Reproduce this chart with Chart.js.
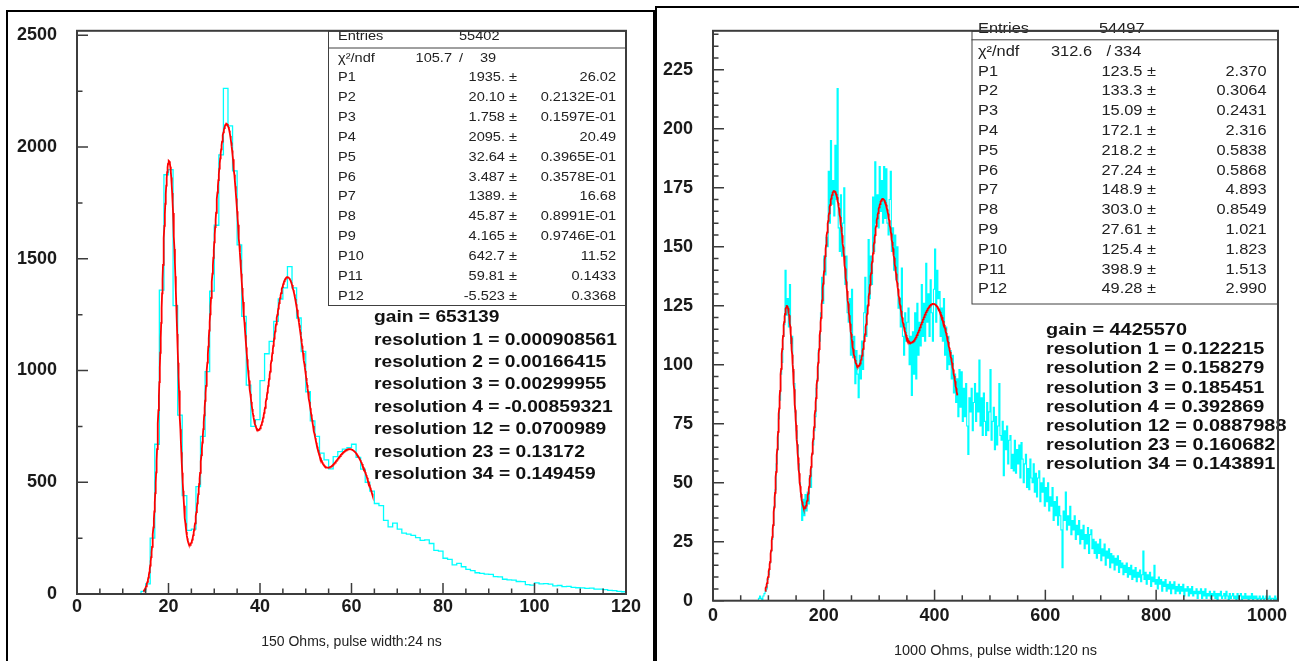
<!DOCTYPE html>
<html>
<head>
<meta charset="utf-8">
<title>Charge spectra with multi-gaussian fits</title>
<script src="https://cdn.jsdelivr.net/npm/chart.js@4.4.1/dist/chart.umd.min.js"></script>
<style>
	html, body { margin: 0; padding: 0; background: #fff; }
	body { width: 1299px; height: 661px; position: relative; overflow: hidden; }
	.frame { position: absolute; box-sizing: border-box; border: 0 solid #000; }
	#frameL { left: 6px; top: 10px; width: 649px; height: 700px; border-width: 2px; }
	#frameR { left: 655px; top: 6px; width: 700px; height: 700px; border-left-width: 2px; border-top-width: 2px; }
	canvas { position: absolute; top: 0; }
	#padL { left: 0; }
	#padR { left: 655px; }
</style>
</head>
<body>
<div class="frame" id="frameL"></div>
<div class="frame" id="frameR"></div>
<canvas id="padL" width="655" height="661"></canvas>
<canvas id="padR" width="644" height="661"></canvas>
<script>
document.addEventListener('DOMContentLoaded', function () {

	'use strict';

	// ---- 150 Ohms, 24 ns : 1-wide bins from 0 to 120
	const leftBinStart = 0;
	const leftBinWidth = 1;
	const leftCounts = [
		0, 0, 0, 0, 0, 0, 0, 0, 0, 0, 0, 0, 0, 0, 12, 45, 250, 670, 1360, 1876,
		1899, 1290, 800, 440, 285, 290, 480, 705, 995, 1355, 1650, 1965, 2262, 2095, 1893, 1562, 1242, 935, 750, 780,
		955, 1075, 1130, 1220, 1320, 1370, 1465, 1370, 1235, 1085, 905, 775, 705, 630, 600, 560, 615, 637, 648, 655,
		670, 611, 559, 500, 460, 405, 395, 329, 300, 317, 290, 272, 268, 262, 252, 240, 242, 226, 195, 192,
		160, 155, 130, 137, 122, 110, 105, 95, 92, 89, 88, 78, 77, 66, 63, 62, 56, 55, 42, 40,
		50, 45, 46, 44, 36, 38, 33, 34, 30, 28, 27, 25, 26, 22, 22, 20, 16, 15, 12, 10
	];
	const leftXTicks = [0, 20, 40, 60, 80, 100, 120];
	const leftYTicks = [0, 500, 1000, 1500, 2000, 2500];
	const leftEntries = '55402';
	const leftChi2 = ['105.7', '39'];
	const leftParText = ['1935.', '20.10', '1.758', '2095.', '32.64', '3.487', '1389.', '45.87', '4.165', '642.7', '59.81', '-5.523'];
	const leftErrText = ['26.02', '0.2132E-01', '0.1597E-01', '20.49', '0.3965E-01', '0.3578E-01', '16.68', '0.8991E-01', '0.9746E-01', '11.52', '0.1433', '0.3368'];
	const leftFitRange = [14.5, 64.6];
	const leftNotes = [
		'gain = 653139',
		'resolution 1 = 0.000908561',
		'resolution 2 = 0.00166415',
		'resolution 3 = 0.00299955',
		'resolution 4 = -0.00859321',
		'resolution 12 = 0.0700989',
		'resolution 23 = 0.13172',
		'resolution 34 = 0.149459'
	];

	// ---- 1000 Ohms, 120 ns : 2-wide bins from 80 to 1020
	const rightBinStart = 80;
	const rightBinWidth = 2;
	const rightCounts = [
		0, 1, 2, 1, 0, 2, 3, 4, 5, 9, 11, 16, 21, 26, 32, 40, 47, 58, 64, 77,
		85, 96, 101, 112, 117, 140, 121, 128, 116, 134, 109, 112, 97, 92, 80, 72, 66, 58, 50, 44,
		34, 43, 36, 45, 38, 46, 41, 53, 48, 62, 66, 72, 78, 90, 94, 106, 110, 122, 137, 126,
		146, 138, 154, 150, 182, 160, 195, 168, 178, 163, 193, 170, 217, 158, 148, 172, 146, 160, 175, 134,
		146, 122, 118, 128, 104, 132, 103, 112, 92, 106, 96, 86, 104, 94, 110, 98, 122, 137, 112, 125,
		153, 128, 146, 134, 171, 148, 186, 160, 172, 158, 184, 165, 178, 160, 184, 162, 183, 160, 155, 170,
		182, 148, 158, 140, 155, 136, 150, 124, 128, 116, 141, 112, 104, 122, 110, 118, 124, 100, 112, 87,
		114, 96, 122, 94, 126, 104, 118, 108, 134, 112, 126, 110, 143, 118, 130, 112, 136, 122, 110, 132,
		149, 118, 140, 128, 131, 112, 124, 110, 128, 104, 116, 98, 112, 100, 106, 94, 104, 88, 96, 84,
		94, 78, 98, 82, 97, 76, 90, 78, 92, 74, 62, 86, 80, 90, 72, 84, 92, 76, 88, 80,
		102, 74, 86, 70, 88, 76, 70, 84, 72, 80, 98, 68, 76, 82, 64, 78, 66, 74, 92, 70,
		68, 76, 53, 72, 64, 74, 58, 68, 70, 56, 62, 55, 68, 54, 64, 58, 66, 52, 67, 60,
		50, 58, 62, 48, 56, 47, 60, 52, 50, 58, 46, 54, 44, 52, 55, 42, 50, 46, 52, 40,
		48, 42, 50, 38, 44, 40, 48, 34, 42, 36, 44, 32, 40, 36, 30, 14, 38, 34, 46, 30,
		36, 32, 40, 28, 34, 30, 36, 26, 32, 28, 34, 24, 30, 26, 32, 22, 28, 24, 31, 20,
		28, 30, 22, 26, 20, 25, 18, 24, 20, 26, 17, 22, 19, 24, 15, 21, 18, 22, 14, 20,
		16, 19, 13, 18, 15, 19, 12, 17, 14, 16, 11, 15, 12, 16, 10, 14, 11, 15, 9, 13,
		10, 14, 8, 12, 10, 13, 8, 11, 21, 9, 12, 7, 11, 9, 12, 6, 10, 8, 15, 7,
		9, 5, 10, 7, 9, 4, 8, 6, 9, 4, 7, 5, 8, 3, 7, 5, 8, 3, 6, 4,
		7, 3, 6, 4, 7, 2, 5, 4, 6, 2, 5, 3, 6, 2, 4, 3, 5, 1, 4, 3,
		5, 1, 4, 2, 5, 1, 3, 2, 4, 1, 3, 2, 4, 1, 3, 0, 3, 2, 4, 1,
		2, 3, 1, 4, 2, 0, 3, 1, 2, 3, 1, 2, 0, 3, 1, 2, 3, 0, 2, 1,
		3, 1, 2, 0, 2, 1, 3, 0, 2, 1, 2, 0, 1, 2, 0, 1, 2, 0, 1, 2,
		0, 1, 2, 0, 1, 1, 0, 2, 0, 1
	];
	const rightXTicks = [0, 200, 400, 600, 800, 1000];
	const rightYTicks = [0, 25, 50, 75, 100, 125, 150, 175, 200, 225];
	const rightEntries = '54497';
	const rightChi2 = ['312.6', '334'];
	const rightParText = ['123.5', '133.3', '15.09', '172.1', '218.2', '27.24', '148.9', '303.0', '27.61', '125.4', '398.9', '49.28'];
	const rightErrText = ['2.370', '0.3064', '0.2431', '2.316', '0.5838', '0.5868', '4.893', '0.8549', '1.021', '1.823', '1.513', '2.990'];
	const rightFitRange = [94, 441];
	const rightNotes = [
		'gain = 4425570',
		'resolution 1 = 0.122215',
		'resolution 2 = 0.158279',
		'resolution 3 = 0.185451',
		'resolution 4 = 0.392869',
		'resolution 12 = 0.0887988',
		'resolution 23 = 0.160682',
		'resolution 34 = 0.143891'
	];

	const FONT = '"Liberation Sans", Arial, Helvetica, sans-serif';
	Chart.defaults.font.family = FONT;

	// outline of a histogram, one point per lower bin edge plus the closing edge
	function histSteps(start, width, counts) {
		const pts = counts.map(function (c, i) { return {x: start + i * width, y: c}; });
		pts.push({x: start + counts.length * width, y: 0});
		return pts;
	}

	// sum of gaussians, parameters in (amplitude, mean, sigma) triplets
	function fitCurve(pars, range, step) {
		const pts = [];
		for (let x = range[0]; x <= range[1] + 1e-9; x += step) {
			let y = 0;
			for (let k = 0; k < pars.length; k += 3) {
				const u = (x - pars[k + 1]) / pars[k + 2];
				y += pars[k] * Math.exp(-0.5 * u * u);
			}
			pts.push({x: x, y: y});
		}
		return pts;
	}

	function stretchText(ctx, str, x, y, align, sx) {
		ctx.save();
		ctx.translate(x, y);
		ctx.scale(sx, 1);
		ctx.textAlign = align;
		ctx.fillText(str, 0, 0);
		ctx.restore();
	}

	// frame, inward ticks, stats box and the gain / resolution lines
	const padDecor = {
		id: 'padDecor',
		afterDatasetsDraw: function (chart, args, o) {
			const ctx = chart.ctx;
			const a = chart.chartArea;
			const xs = chart.scales.x;
			const ys = chart.scales.y;
			ctx.save();

			ctx.strokeStyle = '#3c3c3c';
			ctx.lineWidth = 1.5;
			ctx.beginPath();
			for (let v = 0; v <= xs.max + 1e-6; v += o.xMinor) {
				const px = xs.getPixelForValue(v);
				const len = (Math.abs(v % o.xMajor) < 1e-6) ? 11 : 5.5;
				ctx.moveTo(px, a.bottom);
				ctx.lineTo(px, a.bottom - len);
			}
			for (let v = 0; v <= ys.max + 1e-6; v += o.yMinor) {
				const py = ys.getPixelForValue(v);
				const len = (Math.abs(v % o.yMajor) < 1e-6) ? 11 : 5.5;
				ctx.moveTo(a.left, py);
				ctx.lineTo(a.left + len, py);
			}
			ctx.stroke();

			// stats box
			const s = o.stats;
			ctx.lineWidth = 1;
			ctx.strokeStyle = '#404040';
			ctx.strokeRect(s.left + 0.5, a.top + 0.5, a.right - s.left, s.bottom - a.top);
			ctx.beginPath();
			ctx.moveTo(s.left, s.sep + 0.5);
			ctx.lineTo(a.right, s.sep + 0.5);
			ctx.stroke();

			ctx.fillStyle = '#222';
			ctx.textBaseline = 'middle';
			ctx.font = s.font;
			stretchText(ctx, 'Entries', s.colLabel, s.rowEntries, 'left', s.sx);
			stretchText(ctx, s.entries, s.colEntries, s.rowEntries, 'left', s.sx);
			stretchText(ctx, 'χ²/ndf', s.colLabel, s.rowChi, 'left', s.sx);
			stretchText(ctx, s.chi2[0], s.colChi[0], s.rowChi, 'right', s.sx);
			stretchText(ctx, '/', s.colChi[1], s.rowChi, 'left', s.sx);
			stretchText(ctx, s.chi2[1], s.colChi[2], s.rowChi, 'left', s.sx);
			s.pars.forEach(function (p, i) {
				const y = s.rowP + i * s.dy;
				stretchText(ctx, 'P' + (i + 1), s.colLabel, y, 'left', s.sx);
				stretchText(ctx, p + ' ±', s.colVal, y, 'right', s.sx);
				stretchText(ctx, s.errs[i], s.colErr, y, 'right', s.sx);
			});

			// gain and resolutions
			const n = o.notes;
			ctx.fillStyle = '#111';
			ctx.font = n.font;
			n.lines.forEach(function (t, i) {
				stretchText(ctx, t, n.x, n.y + i * n.dy, 'left', n.sx);
			});

			ctx.strokeStyle = '#3c3c3c';
			ctx.lineWidth = 2;
			ctx.strokeRect(a.left, a.top, a.right - a.left, a.bottom - a.top);
			ctx.restore();
		}
	};

	function makePad(id, cfg) {
		return new Chart(document.getElementById(id), {
			type: 'line',
			data: {
				datasets: [
					{
						data: cfg.fit,
						borderColor: '#ff0000',
						borderWidth: 1.8,
						pointRadius: 0,
						tension: 0
					},
					{
						data: cfg.hist,
						borderColor: '#00ffff',
						borderWidth: cfg.histWidth,
						pointRadius: 0,
						stepped: true
					}
				]
			},
			options: {
				responsive: false,
				animation: false,
				events: [],
				layout: {padding: {left: 0, top: cfg.top, right: cfg.right, bottom: 0}},
				plugins: {
					legend: {display: false},
					tooltip: {enabled: false},
					padDecor: cfg.decor
				},
				scales: {
					x: {
						type: 'linear',
						min: 0,
						max: cfg.xMax,
						grid: {display: false, drawTicks: false},
						border: {display: false},
						ticks: {
							padding: cfg.xLabelPad,
							color: '#1a1a1a',
							maxRotation: 0,
							autoSkip: false,
							font: {size: 18, weight: 'bold', lineHeight: 1.2},
							callback: function (v) { return String(v); }
						},
						afterBuildTicks: function (scale) {
							scale.ticks = cfg.xTicks.map(function (v) { return {value: v}; });
						},
						afterFit: function (scale) { scale.height = cfg.xAxisHeight; },
						title: {
							display: true,
							text: cfg.title,
							color: '#222',
							font: {size: cfg.titleSize, lineHeight: 1},
							padding: {top: 0, bottom: cfg.titlePad}
						}
					},
					y: {
						type: 'linear',
						min: 0,
						max: cfg.yMax,
						grid: {display: false, drawTicks: false},
						border: {display: false},
						ticks: {
							padding: 20,
							color: '#1a1a1a',
							autoSkip: false,
							font: {size: 18, weight: 'bold', lineHeight: 1.2},
							callback: function (v) { return String(v); }
						},
						afterBuildTicks: function (scale) {
							scale.ticks = cfg.yTicks.map(function (v) { return {value: v}; });
						},
						afterFit: function (scale) { scale.width = cfg.yAxisWidth; }
					}
				}
			},
			plugins: [padDecor]
		});
	}

	makePad('padL', {
		hist: histSteps(leftBinStart, leftBinWidth, leftCounts),
		histWidth: 1.3,
		fit: fitCurve(leftParText.map(Number), leftFitRange, 0.1),
		xMax: 120, yMax: 2520,
		xTicks: leftXTicks, yTicks: leftYTicks,
		top: 27, right: 29, yAxisWidth: 77, xAxisHeight: 67,
		xLabelPad: 2.5,
		title: '150 Ohms, pulse width:24 ns', titleSize: 14, titlePad: 11.5,
		decor: {
			xMajor: 20, xMinor: 5, yMajor: 500, yMinor: 250,
			stats: {
				left: 328, bottom: 305, sep: 47.5,
				font: '13px ' + FONT, sx: 1.12,
				rowEntries: 36.5, rowChi: 58.5, rowP: 77.5, dy: 19.9,
				colLabel: 338, colEntries: 459, colChi: [452, 459, 480], colVal: 517, colErr: 616,
				entries: leftEntries, chi2: leftChi2, pars: leftParText, errs: leftErrText
			},
			notes: {
				lines: leftNotes, font: 'bold 17px ' + FONT, sx: 1.13,
				x: 374, y: 317.5, dy: 22.4
			}
		}
	});

	makePad('padR', {
		hist: histSteps(rightBinStart, rightBinWidth, rightCounts),
		histWidth: 1.1,
		fit: fitCurve(rightParText.map(Number), rightFitRange, 0.5),
		xMax: 1020, yMax: 241.5,
		xTicks: rightXTicks, yTicks: rightYTicks,
		top: 19, right: 21, yAxisWidth: 58, xAxisHeight: 60.3,
		xLabelPad: 4.5,
		title: '1000 Ohms, pulse width:120 ns', titleSize: 14.5, titlePad: 3,
		decor: {
			xMajor: 200, xMinor: 50, yMajor: 25, yMinor: 5,
			stats: {
				left: 316.5, bottom: 303.5, sep: 39.3,
				font: '14px ' + FONT, sx: 1.17,
				rowEntries: 29.5, rowChi: 51.7, rowP: 71.7, dy: 19.8,
				colLabel: 323, colEntries: 444, colChi: [437, 451.5, 459], colVal: 501, colErr: 611.5,
				entries: rightEntries, chi2: rightChi2, pars: rightParText, errs: rightErrText
			},
			notes: {
				lines: rightNotes, font: 'bold 17px ' + FONT, sx: 1.17,
				x: 391, y: 330.7, dy: 19.05
			}
		}
	});
});
</script>
</body>
</html>
